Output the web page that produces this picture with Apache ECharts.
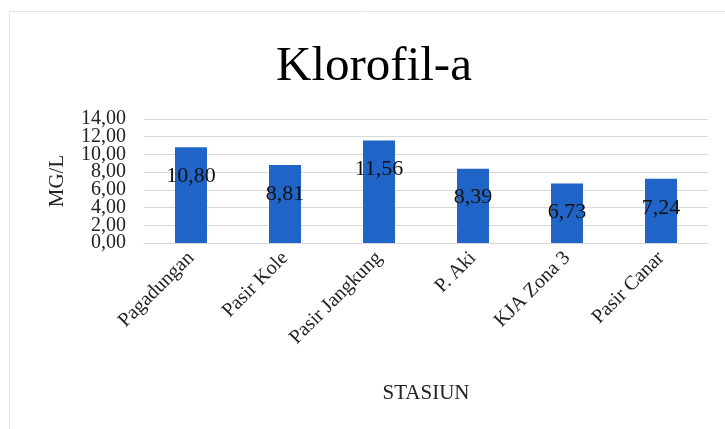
<!DOCTYPE html>
<html>
<head>
<meta charset="utf-8">
<title>Klorofil-a</title>
<script src="https://cdn.jsdelivr.net/npm/echarts@6/dist/echarts.min.js"></script>
<style>
  html, body { margin: 0; padding: 0; background: #ffffff; }
  #chart { width: 725px; height: 429px; }
</style>
</head>
<body>
<div id="chart"></div>
<script>
// Chlorophyll-a concentration per sampling station (mg/L)
const stations = ['Pagadungan', 'Pasir Kole', 'Pasir Jangkung', 'P. Aki', 'KJA Zona 3', 'Pasir Canar'];
const klorofil = [10.80, 8.81, 11.56, 8.39, 6.73, 7.24];
const yTickValues = [0, 2, 4, 6, 8, 10, 12, 14];

const serif = '"Liberation Serif", "Times New Roman", serif';
const fmt = v => Number(v).toFixed(2).replace('.', ',');
const gridLeft = 144;

const chart = echarts.init(document.getElementById('chart'), null, { renderer: 'canvas' });

chart.setOption({
  backgroundColor: '#ffffff',
  animation: false,
  title: {
    text: 'Klorofil-a',
    left: 271,
    top: 38,
    textStyle: { fontFamily: serif, fontSize: 49, fontWeight: 'normal', color: '#000000' }
  },
  grid: { left: gridLeft, right: 17, top: 119, bottom: 186 },
  xAxis: {
    type: 'category',
    data: stations,
    name: 'STASIUN',
    nameLocation: 'middle',
    nameGap: 140,
    nameTextStyle: { fontFamily: serif, fontSize: 21, color: '#222222' },
    axisLine: { show: true, lineStyle: { color: '#d9d9d9' } },
    axisTick: { show: false },
    axisLabel: {
      rotate: 45,
      interval: 0,
      margin: 12,
      fontFamily: serif,
      fontSize: 20,
      color: '#222222'
    }
  },
  yAxis: {
    type: 'value',
    min: yTickValues[0],
    max: yTickValues[yTickValues.length - 1],
    interval: yTickValues[1] - yTickValues[0],
    name: 'MG/L',
    nameLocation: 'middle',
    nameRotate: 90,
    nameGap: 76,
    nameTextStyle: { fontFamily: serif, fontSize: 21, color: '#222222' },
    axisLine: { show: false },
    axisTick: { show: false },
    splitLine: { lineStyle: { color: '#d9d9d9', width: 1 } },
    // tick labels are packed tightly, drawn below as graphic text so none get dropped
    axisLabel: { show: false }
  },
  series: [{
    type: 'bar',
    data: klorofil,
    barWidth: '34%',
    itemStyle: { color: '#1f64c6' },
    label: {
      show: true,
      position: 'insideTop',
      offset: [0, 13],
      formatter: p => fmt(p.value),
      fontFamily: serif,
      fontSize: 22,
      color: '#111111'
    }
  }]
});

// chart frame plus y tick labels placed through the value axis scale
const tickLabels = yTickValues.map(v => ({
  type: 'text',
  x: gridLeft - 18,
  y: chart.convertToPixel({ yAxisIndex: 0 }, v),
  silent: true,
  style: {
    text: fmt(v),
    align: 'right',
    verticalAlign: 'middle',
    font: '20px ' + serif,
    fill: '#222222'
  }
}));

chart.setOption({
  graphic: [{
    type: 'rect',
    shape: { x: 9.5, y: 11.5, width: 740, height: 440 },
    style: { fill: 'none', stroke: '#e3e3e3', lineWidth: 1 },
    silent: true
  }].concat(tickLabels)
});
</script>
</body>
</html>
